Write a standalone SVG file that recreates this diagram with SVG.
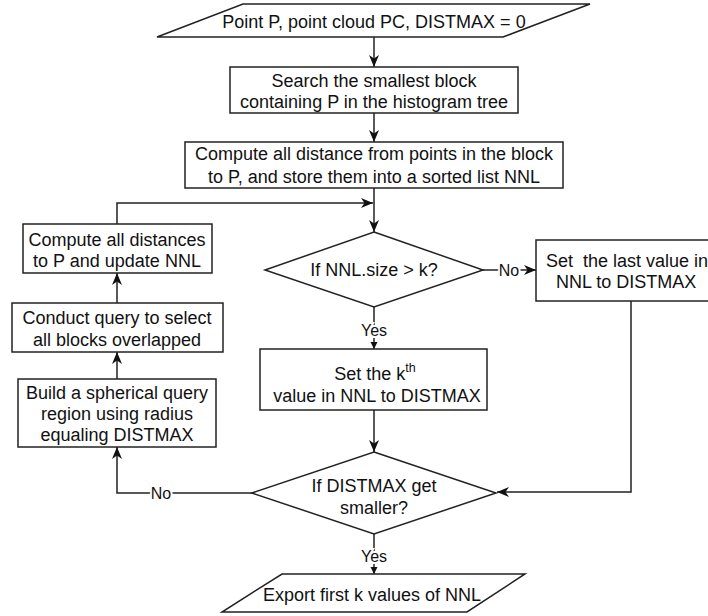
<svg xmlns="http://www.w3.org/2000/svg" width="708" height="616" viewBox="0 0 708 616">
<style>
.s{fill:#fff;stroke:#222;stroke-width:1.5}
.t{font-family:"Liberation Sans",Arial,sans-serif;font-size:18px;fill:#111;text-anchor:middle}
.ts{font-family:"Liberation Sans",Arial,sans-serif;font-size:18px;fill:#111}
.l{fill:none;stroke:#222;stroke-width:1.5}
.lb{font-family:"Liberation Sans",Arial,sans-serif;font-size:16px;fill:#111;text-anchor:middle;stroke:#fff;stroke-width:4;paint-order:stroke}
</style>
<defs>
<marker id="arr" viewBox="0 0 12 10" refX="12" refY="5" markerWidth="12" markerHeight="10" markerUnits="userSpaceOnUse" orient="auto">
<path d="M0,0 L12,5 L0,10 L3.5,5 z" fill="#111"/>
</marker>
<marker id="tri" viewBox="0 0 8 8" refX="8" refY="4" markerWidth="7" markerHeight="8" markerUnits="userSpaceOnUse" orient="auto">
<path d="M0,0 L8,4 L0,8 z" fill="#111"/>
</marker>
</defs>
<rect width="708" height="616" fill="#fff"/>
<g id="connectors">
<path class="l" d="M374,37 V67" marker-end="url(#arr)"/>
<path class="l" d="M374,113 V142" marker-end="url(#arr)"/>
<path class="l" d="M374,188 V232" marker-end="url(#arr)"/>
<path class="l" d="M117,224 V203 H373" marker-end="url(#arr)"/>
<path class="l" d="M483,270 H536" marker-end="url(#arr)"/>
<text class="lb" x="509" y="276">No</text>
<path class="l" d="M374,307 V349" marker-end="url(#tri)"/>
<text class="lb" x="374" y="336">Yes</text>
<path class="l" d="M374,410 V452" marker-end="url(#arr)"/>
<path class="l" d="M631,301 V492 H497" marker-end="url(#arr)"/>
<path class="l" d="M252,493 H117 V447" marker-end="url(#arr)"/>
<text class="lb" x="161" y="499">No</text>
<path class="l" d="M117,379 V352" marker-end="url(#arr)"/>
<path class="l" d="M117,303 V273" marker-end="url(#arr)"/>
<path class="l" d="M374,534 V574" marker-end="url(#tri)"/>
<text class="lb" x="374" y="562">Yes</text>
</g>
<g id="start">
<polygon class="s" points="243,4 590,4 503,37 157,37"/>
<text class="t" x="374" y="28">Point P, point cloud PC, DISTMAX = 0</text>
</g>
<g id="search">
<rect class="s" x="230" y="67" width="288" height="46"/>
<text class="t" x="374" y="87">Search the smallest block</text>
<text class="t" x="374" y="108">containing P in the histogram tree</text>
</g>
<g id="compute">
<rect class="s" x="185" y="142" width="378" height="46"/>
<text class="t" x="374" y="160">Compute all distance from points in the block</text>
<text class="t" x="374" y="183">to P, and store them into a sorted list NNL</text>
</g>
<g id="decision1">
<polygon class="s" points="374,232 483,270 374,307 265,270"/>
<text class="t" x="374" y="276">If NNL.size &gt; k?</text>
</g>
<g id="setlast">
<rect class="s" x="536" y="240" width="190" height="61"/>
<text class="ts" x="546" y="267" xml:space="preserve">Set  the last value in</text>
<text class="ts" x="556" y="288">NNL to DISTMAX</text>
</g>
<g id="setk">
<rect class="s" x="260" y="349" width="227" height="61"/>
<text class="t" x="375" y="380">Set the k<tspan font-size="12.5" dy="-8">th</tspan></text>
<text class="t" x="377" y="402">value in NNL to DISTMAX</text>
</g>
<g id="decision2">
<polygon class="s" points="374,452 496,493 374,534 252,493"/>
<text class="t" x="374" y="492">If DISTMAX get</text>
<text class="t" x="374" y="514">smaller?</text>
</g>
<g id="compdist">
<rect class="s" x="23" y="224" width="189" height="49"/>
<text class="t" x="117" y="246">Compute all distances</text>
<text class="t" x="117" y="267">to P and update NNL</text>
</g>
<g id="conduct">
<rect class="s" x="12" y="303" width="211" height="49"/>
<text class="t" x="117" y="324">Conduct query to select</text>
<text class="t" x="117" y="346">all blocks overlapped</text>
</g>
<g id="build">
<rect class="s" x="18" y="379" width="198" height="68"/>
<text class="t" x="117" y="399">Build a spherical query</text>
<text class="t" x="117" y="420">region using radius</text>
<text class="t" x="117" y="441">equaling DISTMAX</text>
</g>
<g id="export">
<polygon class="s" points="282,574 525,574 467,612 222,612"/>
<text class="t" x="372" y="601">Export first k values of NNL</text>
</g>
</svg>
